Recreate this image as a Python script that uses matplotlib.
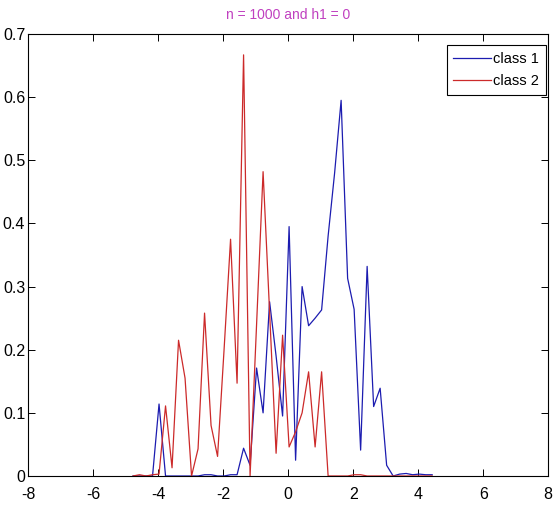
import numpy as np
import matplotlib
matplotlib.use('Agg')
import matplotlib.pyplot as plt

plt.rcParams['font.family'] = ['Liberation Sans', 'DejaVu Sans']

# -------------------------- DATA --------------------------
x_pts = [-4.77, -4.57, -4.37, -4.17, -3.97, -3.77, -3.57, -3.37, -3.17, -2.97,
         -2.77, -2.57, -2.37, -2.17, -1.97, -1.77, -1.57, -1.37, -1.17, -0.97,
         -0.77, -0.57, -0.37, -0.17, 0.03, 0.23, 0.43, 0.63, 0.83, 1.03,
         1.23, 1.43, 1.63, 1.83, 2.03, 2.23, 2.43, 2.63, 2.83, 3.03,
         3.23, 3.43, 3.63, 3.83, 4.03, 4.23, 4.43]

class1 = [0.0, 0.0, 0.0, 0.0, 0.114, 0.0, 0.0, 0.0, 0.0, 0.0,
          0.0, 0.002, 0.002, 0.0, 0.0, 0.002, 0.002, 0.044, 0.017, 0.171,
          0.100, 0.276, 0.190, 0.095, 0.395, 0.025, 0.300, 0.238, 0.250, 0.263,
          0.380, 0.480, 0.595, 0.313, 0.264, 0.041, 0.332, 0.110, 0.139, 0.017,
          0.0, 0.003, 0.004, 0.002, 0.003, 0.002, 0.002]

class2 = [0.0, 0.002, 0.0, 0.002, 0.003, 0.111, 0.013, 0.215, 0.155, 0.0,
          0.043, 0.258, 0.080, 0.031, 0.200, 0.375, 0.147, 0.667, 0.0, 0.240,
          0.482, 0.260, 0.036, 0.223, 0.046, 0.070, 0.100, 0.165, 0.046, 0.165,
          0.0, 0.0, 0.0, 0.0, 0.002, 0.002, 0.0, 0.0, 0.0, 0.0,
          0.0, 0.0, 0.0, 0.0, 0.0, 0.0, 0.0]

x_ticks = [-8, -6, -4, -2, 0, 2, 4, 6, 8]
y_ticks = [0, 0.1, 0.2, 0.3, 0.4, 0.5, 0.6, 0.7]
y_labels = ['0', '0.1', '0.2', '0.3', '0.4', '0.5', '0.6', '0.7']

# -------------------------- PLOT --------------------------
fig = plt.figure(figsize=(5.6, 5.08), dpi=100)
ax = fig.add_axes([0.05, 0.063, 0.929, 0.870])

ax.plot(x_pts, class1, color='#1c1cb0', linewidth=0.9, label='class 1')
ax.plot(x_pts, class2, color='#cc2a2a', linewidth=0.9, label='class 2')

ax.set_xlim(-8, 8)
ax.set_ylim(0, 0.7)
ax.set_xticks(x_ticks)
ax.set_yticks(y_ticks)
ax.set_xticklabels([str(t) for t in x_ticks])
ax.set_yticklabels(y_labels)
ax.tick_params(direction='in', top=True, right=True, length=5, width=0.7,
               labelsize=11.5, pad=2)
ax.tick_params(axis='x', pad=8)
for s in ax.spines.values():
    s.set_linewidth(0.8)

ax.set_title('n = 1000 and h1 = 0', color='#c040c0', fontsize=10, pad=11)

leg = ax.legend(loc='upper right', bbox_to_anchor=(0.995, 0.975), fontsize=10.5,
                fancybox=False, framealpha=1, edgecolor='black',
                borderpad=0.45, handlelength=2.6, handletextpad=0.15,
                labelspacing=0.6, borderaxespad=0.0)
leg.get_frame().set_linewidth(0.8)

plt.savefig('out.png', dpi=100)
